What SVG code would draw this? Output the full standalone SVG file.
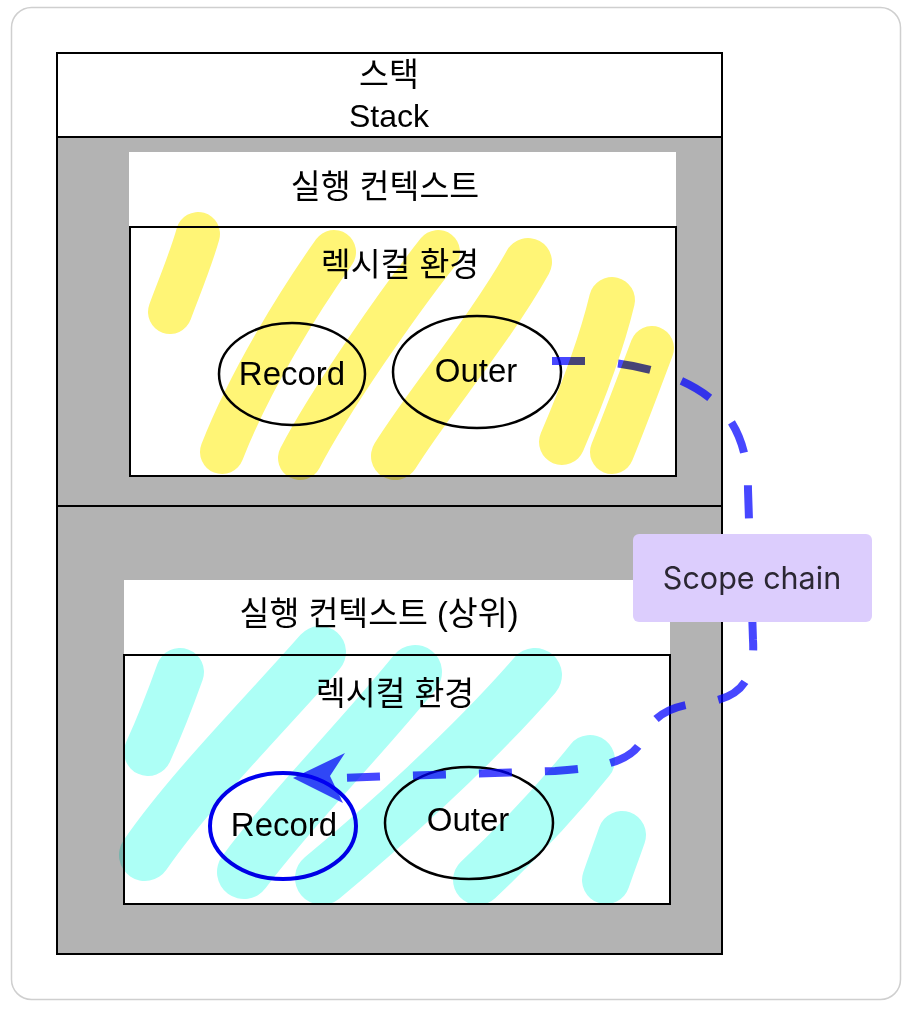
<svg xmlns="http://www.w3.org/2000/svg" width="913" height="1016" viewBox="0 0 913 1016">
  <defs>
    <style>
      .lat { font-family: "Liberation Sans", Arial, sans-serif; fill: #000; text-anchor: middle; }
      .kor { font-family: "Liberation Sans", "Noto Sans CJK KR", sans-serif; fill: #000; text-anchor: middle; font-size: 32.5px; }
      .box { stroke: #000; stroke-width: 2; }
      .ell { fill: none; stroke: #000; stroke-width: 2.5; }
      .hl-y { fill: none; stroke: #fff576; stroke-linecap: round; stroke-linejoin: round; }
      .hl-c { fill: none; stroke: #adfff6; stroke-linecap: round; stroke-linejoin: round; }
      .hl { mix-blend-mode: multiply; }
      .dash { fill: none; stroke: #0000ff; stroke-opacity: 0.72; stroke-width: 8; stroke-dasharray: 33 33; }
    </style>
  </defs>

  <rect x="11.5" y="7.5" width="889" height="992" rx="20" ry="20" fill="#fff" stroke="#cfcfcf" stroke-width="1.5"/>

  <g id="stack">
    <rect class="box" x="57" y="53" width="665" height="84" fill="#fff"/>
    <text class="kor" x="389" y="86" font-size="31.5">스택</text>
    <text class="lat" x="389" y="127" font-size="32">Stack</text>
    <rect class="box" x="57" y="137" width="665" height="369" fill="#b3b3b3"/>
    <rect class="box" x="57" y="506" width="665" height="448" fill="#b3b3b3"/>
  </g>

  <g id="ctx-upper">
    <rect x="129" y="152" width="547" height="75" fill="#fff"/>
    <text class="kor" x="385" y="198">실행 컨텍스트</text>
  </g>
  <g id="lex-upper">
    <rect class="box" x="130" y="227" width="546" height="249" fill="#fff"/>
    <text class="kor" x="400" y="276">렉시컬 환경</text>
  </g>
  <g id="record-upper">
    <ellipse class="ell" cx="292" cy="374" rx="73" ry="51"/>
    <text class="lat" x="292" y="385" font-size="33">Record</text>
  </g>
  <g id="outer-upper">
    <ellipse class="ell" cx="477" cy="372" rx="84" ry="56"/>
    <text class="lat" x="476" y="382" font-size="33">Outer</text>
  </g>

  <g id="ctx-lower">
    <rect x="124" y="580" width="546" height="75" fill="#fff"/>
    <text class="kor" x="379" y="625">실행 컨텍스트 (상위)</text>
  </g>
  <g id="lex-lower">
    <rect class="box" x="124" y="655" width="546" height="249" fill="#fff"/>
    <text class="kor" x="395" y="705">렉시컬 환경</text>
  </g>
  <g id="record-lower">
    <ellipse cx="283" cy="826" rx="73" ry="53" fill="none" stroke="#0000ee" stroke-width="4"/>
    <text class="lat" x="284" y="836" font-size="33">Record</text>
  </g>
  <g id="outer-lower">
    <ellipse class="ell" cx="469" cy="823" rx="84" ry="56"/>
    <text class="lat" x="468" y="831" font-size="33">Outer</text>
  </g>

  <g id="connectors">
    <path class="dash" d="M552,361 L585,361 C640,362 690,378 718,405 C740,428 748,455 748,490 L753,640 C756,690 730,700 700,703 C665,706 650,720 642,740 C632,762 600,768 555,771 L337,778"/>
    <path d="M293,778 L345,753 L330,776 L343,803 Z" fill="#0000ff" fill-opacity="0.72"/>
  </g>

  <g id="highlights" class="hl">
    <path class="hl-y" stroke-width="44" d="M198,234 C190,262 178,290 170,312"/>
    <path class="hl-y" stroke-width="44" d="M334,252 C300,300 250,380 222,452"/>
    <path class="hl-y" stroke-width="44" d="M438,252 C400,300 330,400 300,458"/>
    <path class="hl-y" stroke-width="48" d="M528,262 C490,330 430,400 395,456"/>
    <path class="hl-y" stroke-width="46" d="M612,300 C600,350 580,400 562,442"/>
    <path class="hl-y" stroke-width="44" d="M652,348 C640,380 625,420 612,452"/>
    <path class="hl-c" stroke-width="48" d="M180,672 C170,700 158,730 148,752"/>
    <path class="hl-c" stroke-width="52" d="M320,652 C260,720 190,790 145,855"/>
    <path class="hl-c" stroke-width="54" d="M415,672 C360,740 290,810 244,872"/>
    <path class="hl-c" stroke-width="54" d="M535,675 C470,750 380,830 322,878"/>
    <path class="hl-c" stroke-width="50" d="M590,760 C550,810 510,850 478,880"/>
    <path class="hl-c" stroke-width="48" d="M622,835 C615,855 610,868 606,880"/>
  </g>

  <g id="scope-chain">
    <rect x="633" y="534" width="239" height="88" rx="6" ry="6" fill="#dccdfd"/>
    <text x="752" y="589" font-family="Inter, 'Noto Sans', sans-serif" font-size="30.5" fill="#2b2733" text-anchor="middle">Scope chain</text>
  </g>
</svg>
